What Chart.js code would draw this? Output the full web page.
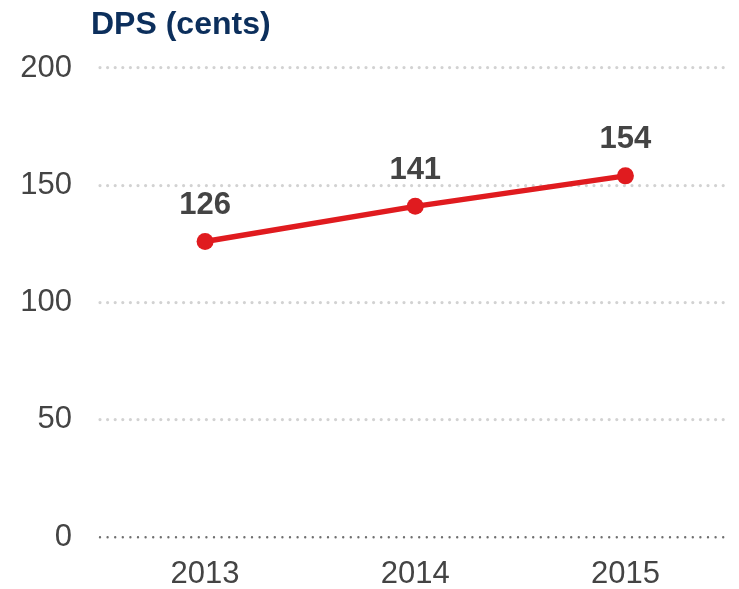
<!DOCTYPE html>
<html>
<head>
<meta charset="utf-8">
<script src="https://cdn.jsdelivr.net/npm/chart.js@4.4.0/dist/chart.umd.min.js"></script>
<style>
  html, body { margin: 0; padding: 0; background: #fff; }
  #wrap { width: 739px; height: 589px; position: relative; }
</style>
</head>
<body>
<div id="wrap"><canvas id="dps-chart"></canvas></div>
<script>
const years = ["2013", "2014", "2015"];
const dpsCents = [126, 141, 154];
const yTicks = [0, 50, 100, 150, 200];
const chartTitle = "DPS (cents)";

const FONT = "'Liberation Sans', Arial, Helvetica, sans-serif";

// round dotted grid lines + title + value labels
const decorPlugin = {
  id: "decor",
  beforeDraw(chart) {
    chart.ctx.lineCap = "round";
  },
  afterDraw(chart) {
    const ctx = chart.ctx;
    ctx.save();
    ctx.font = `bold 32px ${FONT}`;
    ctx.fillStyle = "#0c2f5c";
    ctx.textAlign = "left";
    ctx.textBaseline = "middle";
    ctx.fillText(chartTitle, 91, 25);

    const meta = chart.getDatasetMeta(0);
    ctx.font = `bold 31px ${FONT}`;
    ctx.fillStyle = "#444";
    ctx.textAlign = "center";
    meta.data.forEach((pt, i) => {
      ctx.fillText(String(dpsCents[i]), pt.x, pt.y - 36);
    });
    ctx.restore();
  },
};

document.addEventListener("DOMContentLoaded", () => {
  const ctx = document.getElementById("dps-chart").getContext("2d");
  new Chart(ctx, {
    type: "line",
    data: {
      labels: years,
      datasets: [
        {
          data: dpsCents,
          borderColor: "#e01b1f",
          backgroundColor: "#e01b1f",
          borderWidth: 5.5,
          pointRadius: 8.5,
          pointHoverRadius: 8.5,
          pointBorderWidth: 0,
          tension: 0,
        },
      ],
    },
    options: {
      responsive: true,
      maintainAspectRatio: false,
      animation: false,
      layout: {
        padding: { top: 68, right: 8, bottom: 0, left: 0 },
      },
      plugins: {
        legend: { display: false },
        tooltip: { enabled: false },
      },
      scales: {
        x: {
          offset: true,
          grid: { display: false, drawTicks: false },
          border: { display: false },
          ticks: {
            color: "#444",
            padding: 19,
            font: { family: FONT, size: 31 },
          },
          afterFit(scale) {
            scale.height = 52;
          },
        },
        y: {
          min: 0,
          max: 200,
          afterBuildTicks(scale) {
            scale.ticks = yTicks.map((v) => ({ value: v }));
          },
          grid: {
            drawTicks: false,
            color: (c) => (c.tick && c.tick.value === 0 ? "#6f6f6f" : "#d2d2d2"),
            lineWidth: (c) => (c.tick && c.tick.value === 0 ? 2.4 : 3.2),
          },
          border: { display: false, dash: [0, 7.6] },
          ticks: {
            color: "#444",
            padding: 28,
            font: { family: FONT, size: 31 },
          },
          afterFit(scale) {
            scale.width = 100;
          },
        },
      },
    },
    plugins: [decorPlugin],
  });
});
</script>
</body>
</html>
